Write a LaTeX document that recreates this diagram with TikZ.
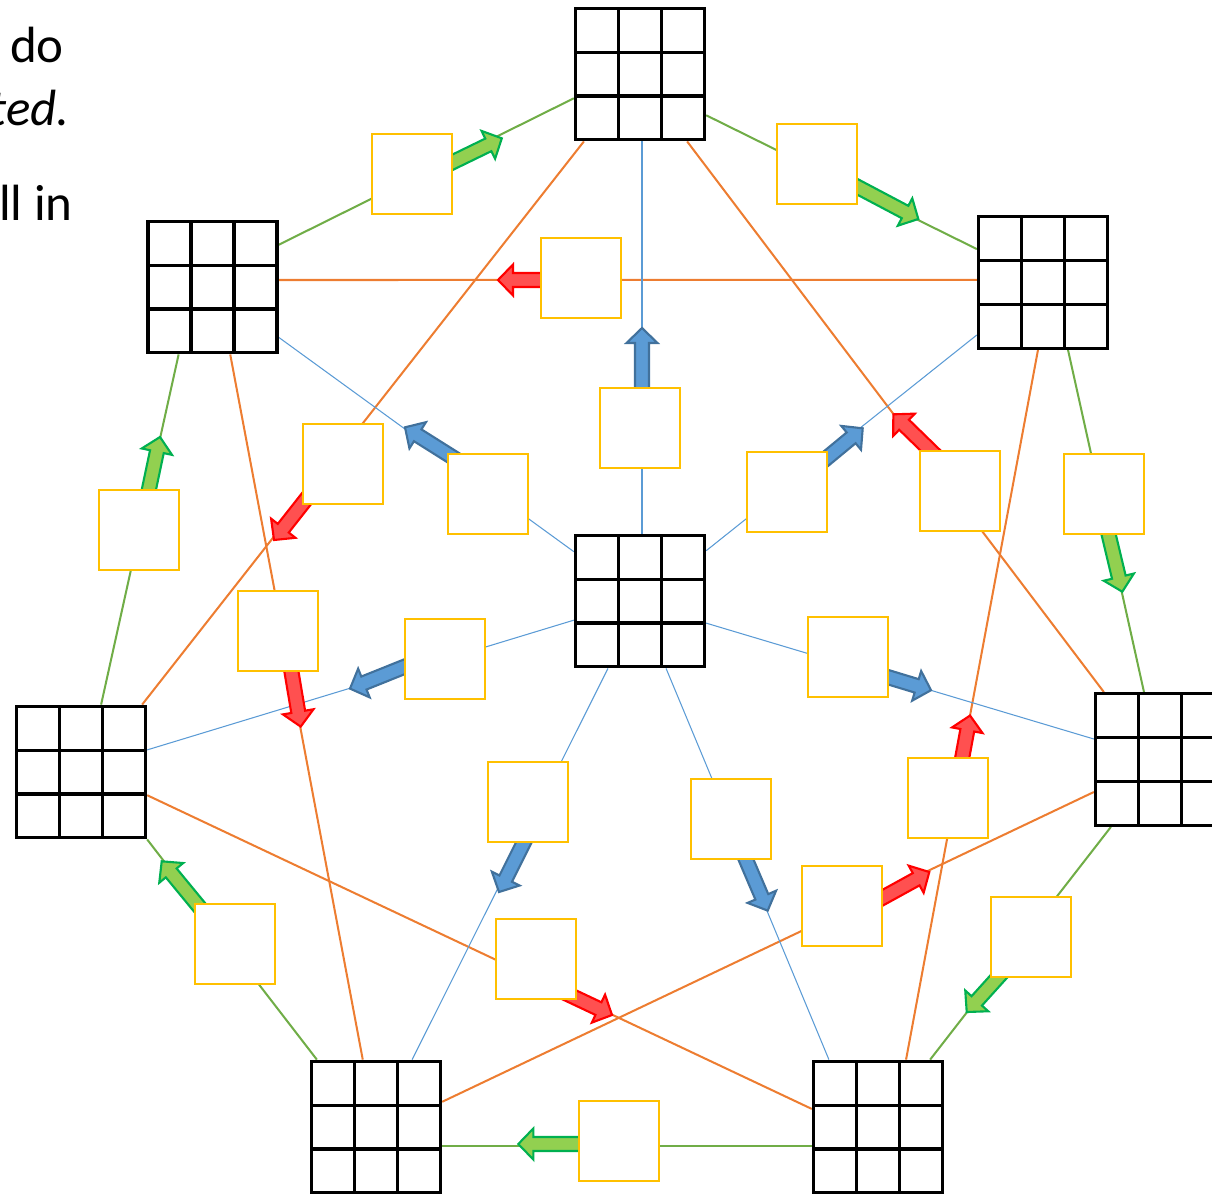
\documentclass[tikz,border=0pt]{standalone}
\usepackage{fontspec}
\setmainfont{Carlito}
\usetikzlibrary{calc}
\pgfdeclarelayer{bg}
\pgfsetlayers{bg,main}
\definecolor{lngreen}{HTML}{70AD47}
\definecolor{lnorange}{HTML}{ED7D31}
\definecolor{lnblue}{HTML}{5B9BD5}
\definecolor{boxyellow}{HTML}{FFC000}
\definecolor{agfill}{HTML}{92D050}
\definecolor{agdraw}{HTML}{00B050}
\definecolor{arfill}{HTML}{FF5050}
\definecolor{ardraw}{HTML}{FF0000}
\definecolor{abfill}{HTML}{5B9BD5}
\definecolor{abdraw}{HTML}{41719C}
\newcommand\Np[2]{($(#1.north west)!#2!(#1.north east)$)}
\newcommand\Sp[2]{($(#1.south west)!#2!(#1.south east)$)}
\newcommand\Wp[2]{($(#1.north west)!#2!(#1.south west)$)}
\newcommand\Ep[2]{($(#1.north east)!#2!(#1.south east)$)}
\newcommand\blockarrow[4]{%
  \coordinate (#2t) at (#3);
  \coordinate (#2h) at (#4);
  \coordinate (#2b) at ($(#2h)!0.30cm!(#2t)$);
  \draw[#1] ($(#2t)!0.14cm!90:(#2h)$) -- ($(#2b)!0.14cm!90:(#2h)$) -- ($(#2b)!0.31cm!90:(#2h)$) -- (#2h) -- ($(#2b)!0.31cm!-90:(#2h)$) -- ($(#2b)!0.14cm!-90:(#2h)$) -- ($(#2t)!0.14cm!-90:(#2h)$) -- cycle;
}
\tikzset{
  gridbox/.style={draw=black, line width=1.9pt, fill=white, minimum width=2.58cm, minimum height=2.63cm, inner sep=0pt,
    path picture={
      \foreach \f in {0.3333,0.6667}{
        \draw[line width=1.8pt] ($(path picture bounding box.north west)!\f!(path picture bounding box.north east)$) -- ($(path picture bounding box.south west)!\f!(path picture bounding box.south east)$);
        \draw[line width=1.8pt] ($(path picture bounding box.north west)!\f!(path picture bounding box.south west)$) -- ($(path picture bounding box.north east)!\f!(path picture bounding box.south east)$);
      }
    }},
  ybox/.style={draw=boxyellow, line width=1.6pt, fill=white, minimum size=1.6cm, inner sep=0pt},
  greenln/.style={draw=lngreen, line width=1.15pt},
  orangeln/.style={draw=lnorange, line width=1.15pt},
  blueln/.style={draw=lnblue, line width=0.6pt},
  greenarr/.style={fill=agfill, draw=agdraw, line width=1.2pt},
  redarr/.style={fill=arfill, draw=ardraw, line width=1.2pt},
  bluearr/.style={fill=abfill, draw=abdraw, line width=1.2pt},
  txt/.style={anchor=base east, inner sep=0pt, font=\fontsize{29}{35}\selectfont}
}
\begin{document}
\begin{tikzpicture}[x=0.02cm, y=-0.02cm]
\useasboundingbox (0,0) rectangle (1212,1194);
% text
\node[txt] (t1) at (64,62) {do};
\node[txt] (t2) at (70,125) {\itshape ted.};
\node[txt] (t3) at (73,220) {ll in};
% grids
\node[gridbox] (Top) at (640,74) {};
\node[gridbox] (UL) at (212.5,287) {};
\node[gridbox] (UR) at (1043,282.5) {};
\node[gridbox] (C) at (640,601) {};
\node[gridbox] (L) at (81,772) {};
\node[gridbox] (R) at (1160,759.5) {};
\node[gridbox] (BL) at (376,1127) {};
\node[gridbox] (BR) at (878,1127) {};
\begin{pgfonlayer}{bg}
% green ring
\draw[greenln] \Ep{UL}{0.187} -- \Wp{Top}{0.68};
\draw[greenln] \Ep{Top}{0.806} -- \Wp{UR}{0.252};
\draw[greenln] \Sp{UR}{0.689} -- \Np{R}{0.379};
\draw[greenln] \Sp{R}{0.129} -- \Np{BR}{0.894};
\draw[greenln] \Wp{BR}{0.642} -- \Ep{BL}{0.642};
\draw[greenln] \Np{BL}{0.053} -- (L.south east);
\draw[greenln] \Np{L}{0.652} -- \Sp{UL}{0.244};
% orange star
\draw[orangeln] \Ep{UL}{0.448} -- \Wp{UR}{0.481};
\draw[orangeln] \Sp{Top}{0.076} -- \Np{L}{0.962};
\draw[orangeln] \Sp{Top}{0.856} -- \Np{R}{0.076};
\draw[orangeln] \Sp{UL}{0.634} -- \Np{BL}{0.40};
\draw[orangeln] \Sp{UR}{0.462} -- \Np{BR}{0.712};
\draw[orangeln] \Ep{L}{0.672} -- \Wp{BR}{0.366};
\draw[orangeln] \Wp{R}{0.741} -- \Ep{BL}{0.313};
% blue spokes
\draw[blueln] \Np{C}{0.515} -- \Sp{Top}{0.515};
\draw[blueln] \Wp{C}{0.134} -- \Ep{UL}{0.873};
\draw[blueln] \Ep{C}{0.127} -- \Wp{UR}{0.889};
\draw[blueln] \Wp{C}{0.642} -- \Ep{L}{0.336};
\draw[blueln] \Ep{C}{0.664} -- \Wp{R}{0.348};
\draw[blueln] \Sp{C}{0.258} -- \Np{BL}{0.773};
\draw[blueln] \Sp{C}{0.697} -- \Np{BR}{0.129};
\end{pgfonlayer}
% arrows
\blockarrow{greenarr}{a1}{439.3,168.7}{501.8,138.3}
\blockarrow{greenarr}{a2}{840.3,177.8}{918.3,219}
\blockarrow{redarr}{a3}{552.6,280}{498,280}
\blockarrow{bluearr}{a4}{642,400}{642,328}
\blockarrow{redarr}{a5}{311,493}{274,540}
\blockarrow{bluearr}{a6}{465.7,465.5}{405,427.3}
\blockarrow{bluearr}{a7}{818,465.2}{862.7,428.3}
\blockarrow{redarr}{a8}{941,460.7}{893.3,414.3}
\blockarrow{greenarr}{a9}{1105,519.3}{1122.3,591.7}
\blockarrow{greenarr}{a10}{145.7,504.6}{160,437}
\blockarrow{redarr}{a11}{289,657.2}{300.7,726.6}
\blockarrow{bluearr}{a12}{419.3,660.8}{350,688.6}
\blockarrow{bluearr}{a13}{877.7,674}{931,690.2}
\blockarrow{redarr}{a14}{960,769.7}{970,715.5}
\blockarrow{bluearr}{a15}{528,834}{499,892}
\blockarrow{bluearr}{a16}{740.4,846.6}{767.7,910.6}
\blockarrow{redarr}{a17}{869.5,904.9}{929.3,872}
\blockarrow{greenarr}{a18}{1005.7,968.8}{966.7,1012}
\blockarrow{greenarr}{a19}{211.5,921.8}{161.7,861.3}
\blockarrow{redarr}{a20}{557.8,989.4}{612,1015}
\blockarrow{greenarr}{a21}{595,1144}{518.3,1144}
% yellow boxes
\node[ybox] (y1) at (412,174) {};
\node[ybox] (y2) at (817,164) {};
\node[ybox] (y3) at (581,278) {};
\node[ybox] (y4) at (640,428) {};
\node[ybox] (y5) at (343,464) {};
\node[ybox] (y6) at (488,494) {};
\node[ybox] (y7) at (787,492) {};
\node[ybox] (y8) at (960,491) {};
\node[ybox] (y9) at (1104,494) {};
\node[ybox] (y10) at (139,530) {};
\node[ybox] (y11) at (278,631) {};
\node[ybox] (y12) at (445,659) {};
\node[ybox] (y13) at (848,657) {};
\node[ybox] (y14) at (948,798) {};
\node[ybox] (y15) at (528,802) {};
\node[ybox] (y16) at (731,819) {};
\node[ybox] (y17) at (842,906) {};
\node[ybox] (y18) at (1031,937) {};
\node[ybox] (y19) at (235,944) {};
\node[ybox] (y20) at (536,959) {};
\node[ybox] (y21) at (619,1141) {};
\end{tikzpicture}
\end{document}
